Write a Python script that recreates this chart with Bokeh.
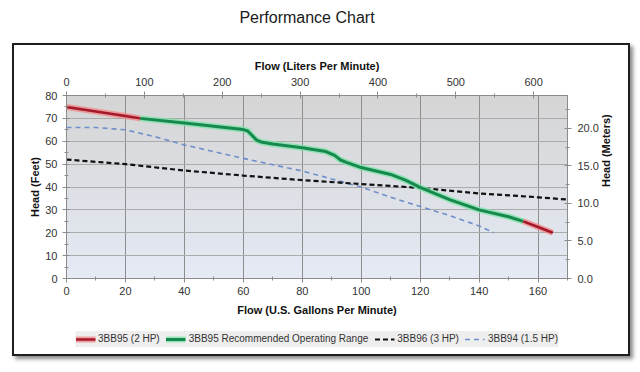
import math
import numpy as np
from bokeh.plotting import figure
from bokeh.models import (Range1d, LinearAxis, Legend, LegendItem, Div,
                          FixedTicker, NumeralTickFormatter)
from bokeh.layouts import column
from bokeh.embed import file_html
from bokeh.resources import INLINE

# ---------------- data ----------------
chart_title = "Performance Chart"

gpm_red_low = [0, 10, 20, 25]
head_red_low = [75, 73, 71, 70]

gpm_green = [25, 40, 60, 61.5, 63, 64.5, 66, 70, 80, 88, 91, 93, 95, 100, 110, 115, 120, 130, 140, 150, 155]
head_green = [70, 68, 65.1, 64.5, 62.5, 60.5, 59.7, 58.8, 57.2, 55.5, 53.8, 51.8, 50.8, 48.5, 45.5, 43, 39.8, 34.5, 30, 27, 25]

gpm_red_high = [155, 160, 165]
head_red_high = [25, 22.5, 20]

gpm_3bb96 = [0, 20, 40, 60, 80, 100, 120, 140, 160, 170]
head_3bb96 = [52, 50, 47.2, 45, 43, 41.3, 39.6, 37.2, 35.5, 34.5]

gpm_3bb94 = [0, 10, 20, 30, 40, 60, 80, 90, 100, 110, 120, 130, 140, 145]
head_3bb94 = [66, 66, 65, 62, 58.4, 52.5, 47, 43.5, 40, 35.5, 31.5, 27.5, 23, 20]

legend_labels = ["3BB95 (2 HP)", "3BB95 Recommended Operating Range",
                 "3BB96 (3 HP)", "3BB94 (1.5 HP)"]

x_ticks = [0, 20, 40, 60, 80, 100, 120, 140, 160]
x_minor = [10, 30, 50, 70, 90, 110, 130, 150, 170]
y_ticks = [0, 10, 20, 30, 40, 50, 60, 70, 80]
y_minor = [5, 15, 25, 35, 45, 55, 65, 75]
lpm_ticks = [0, 100, 200, 300, 400, 500, 600]
lpm_minor = [50, 150, 250, 350, 450, 550]
m_ticks = [0, 5, 10, 15, 20]
m_minor = [2.5, 7.5, 12.5, 17.5, 22.5]

X_MAX = 170
Y_MAX = 80
GPM_TO_LPM = 3.785
FT_TO_M = 0.3048

FONT = "Liberation Sans"

RED_CORE, RED_GLOW = "#a3192b", "#f08a8a"
GRN_CORE, GRN_GLOW = "#17894f", "#7ee3a8"
BLACK_DASH = dict(line_color="#111111", line_width=2.2, line_dash="5 3")
BLUE_DASH = dict(line_color="#6f8fca", line_width=1.6, line_dash="5 4")
RED_G = dict(line_color=RED_GLOW, line_width=6, line_alpha=0.8)
RED_C = dict(line_color=RED_CORE, line_width=2.5)
GRN_G = dict(line_color=GRN_GLOW, line_width=6, line_alpha=0.8)
GRN_C = dict(line_color=GRN_CORE, line_width=3)

# ---------------- main figure ----------------
p = figure(width=614, height=278,
           x_range=Range1d(0, X_MAX), y_range=Range1d(0, Y_MAX),
           output_backend="svg", toolbar_location=None,
           min_border_left=52, min_border_right=61,
           min_border_top=50, min_border_bottom=45,
           border_fill_color="white", outline_line_color="#8c8c8c")

p.extra_x_ranges = {"lpm": Range1d(0, X_MAX * GPM_TO_LPM)}
p.extra_y_ranges = {"m": Range1d(0, Y_MAX * FT_TO_M)}

# gradient background (gray top -> pale blue bottom)
n = 64
t = np.linspace(0, 1, n)  # 0 bottom, 1 top
bottom = np.array([229, 234, 245])
top = np.array([213, 213, 213])
img = np.empty((n, 1), dtype=np.uint32)
view = img.view(dtype=np.uint8).reshape((n, 1, 4))
for i in range(n):
    c = bottom + (top - bottom) * t[i]
    view[i, 0, 0] = int(c[0]); view[i, 0, 1] = int(c[1]); view[i, 0, 2] = int(c[2]); view[i, 0, 3] = 255
p.image_rgba(image=[img], x=p.x_range.start, y=p.y_range.start,
             dw=p.x_range.end - p.x_range.start, dh=p.y_range.end - p.y_range.start, level="image")

p.xgrid.ticker = FixedTicker(ticks=x_ticks)
p.ygrid.ticker = FixedTicker(ticks=y_ticks)
p.xgrid.grid_line_color = "#8e8e8e"
p.ygrid.grid_line_color = "#ababab"

def style_axis(ax):
    ax.axis_line_color = "#8c8c8c"
    ax.major_tick_line_color = "#8c8c8c"
    ax.minor_tick_line_color = "#8c8c8c"
    ax.major_tick_in = 3
    ax.major_tick_out = 4
    ax.minor_tick_in = 2
    ax.minor_tick_out = 2
    ax.major_label_text_font = FONT
    ax.major_label_text_font_size = "11px"
    ax.major_label_text_color = "#333333"
    ax.axis_label_text_font = FONT
    ax.axis_label_text_font_size = "11px"
    ax.axis_label_text_font_style = "bold"
    ax.axis_label_text_color = "#111111"

bx = p.xaxis[0]
bx.ticker = FixedTicker(ticks=x_ticks, minor_ticks=x_minor)
bx.axis_label = "Flow (U.S. Gallons Per Minute)"
style_axis(bx)
bx.major_label_standoff = 4
bx.axis_label_standoff = 6

ly = p.yaxis[0]
ly.ticker = FixedTicker(ticks=y_ticks, minor_ticks=y_minor)
ly.axis_label = "Head (Feet)"
style_axis(ly)
ly.major_label_standoff = 5
ly.axis_label_standoff = 1

tx = LinearAxis(x_range_name="lpm", axis_label="Flow (Liters Per Minute)",
                ticker=FixedTicker(ticks=lpm_ticks, minor_ticks=lpm_minor))
style_axis(tx)
tx.major_label_standoff = 6
tx.axis_label_standoff = 3
p.add_layout(tx, "above")

ry = LinearAxis(y_range_name="m", axis_label="Head (Meters)",
                ticker=FixedTicker(ticks=m_ticks, minor_ticks=m_minor),
                formatter=NumeralTickFormatter(format="0.0"))
style_axis(ry)
ry.major_label_standoff = 6
ry.axis_label_standoff = 4
ry.axis_label_orientation = math.pi / 2
p.add_layout(ry, "right")

p.line(gpm_3bb94, head_3bb94, **BLUE_DASH)
p.line(gpm_3bb96, head_3bb96, **BLACK_DASH)
p.line(gpm_green, head_green, **GRN_G)
p.line(gpm_green, head_green, **GRN_C)
p.line(gpm_red_low, head_red_low, **RED_G)
p.line(gpm_red_low, head_red_low, **RED_C)
p.line(gpm_red_high, head_red_high, **RED_G)
p.line(gpm_red_high, head_red_high, **RED_C)

# ---------------- legend strip (inside the same framed box) ----------------
# the key figure re-uses the series, but its view range shows none of them,
# so only the legend samples are visible
lg = figure(width=614, height=31, x_range=Range1d(0, 1), y_range=Range1d(0, 1),
            output_backend="svg", toolbar_location=None,
            x_axis_location=None, y_axis_location=None,
            min_border=0, min_border_left=0, min_border_right=0,
            min_border_top=0, min_border_bottom=0, outline_line_color=None,
            background_fill_color="white", border_fill_color="white")
lg.xgrid.visible = False
lg.ygrid.visible = False
k_r1 = lg.line(gpm_red_low, head_red_low, **RED_G)
k_r2 = lg.line(gpm_red_low, head_red_low, **RED_C)
k_g1 = lg.line(gpm_green, head_green, **GRN_G)
k_g2 = lg.line(gpm_green, head_green, **GRN_C)
k_b = lg.line(gpm_3bb96, head_3bb96, **BLACK_DASH)
k_u = lg.line(gpm_3bb94, head_3bb94, **BLUE_DASH)

legend = Legend(items=[
    LegendItem(label=legend_labels[0], renderers=[k_r1, k_r2]),
    LegendItem(label=legend_labels[1], renderers=[k_g1, k_g2]),
    LegendItem(label=legend_labels[2], renderers=[k_b]),
    LegendItem(label=legend_labels[3], renderers=[k_u]),
], orientation="horizontal", location="center",
    background_fill_color="#eeeeee", background_fill_alpha=1,
    border_line_color=None, padding=3, spacing=6, margin=0,
    glyph_width=20, glyph_height=16, label_height=16, label_standoff=3,
    label_text_font=FONT, label_text_font_size="10px", label_text_color="#333333")
lg.add_layout(legend, "center")

box = column(p, lg, spacing=0, margin=(0, 0, 0, 14),
             styles={"box-shadow": "0 0 0 2px #1e1e1e, 3px 3px 4px 2px #8a8a8a"})

title_html = ('<div style="padding-top:8px;line-height:20px;'
              'font-family:\'Liberation Sans\',Arial,sans-serif;font-size:16px;color:#1a1a1a">'
              + chart_title + '</div>')
title_div = Div(text=title_html, width=614, height=45, margin=0,
                styles={"text-align": "center"})

layout = column(title_div, box, spacing=0)

open("out.html", "w").write(file_html(layout, INLINE))
